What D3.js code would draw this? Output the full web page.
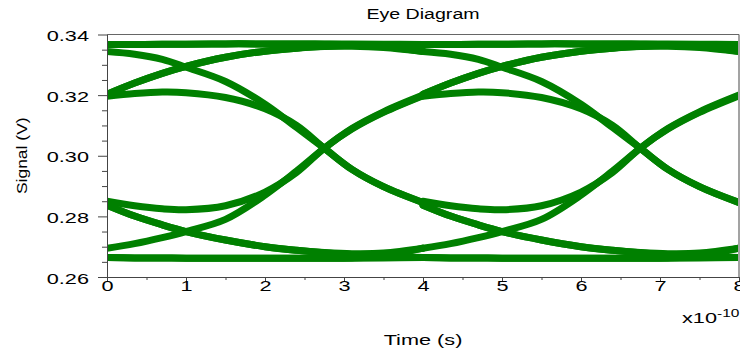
<!DOCTYPE html>
<html>
<head>
<meta charset="utf-8">
<script src="https://cdn.jsdelivr.net/npm/d3@7"></script>
<style>
body { margin: 0; background: #fff; }
svg { display: block; }
text { font-family: "Liberation Sans", Arial, sans-serif; fill: #000; }
</style>
</head>
<body>
<div id="chart"></div>
<script>
// time points inside one unit interval (x1e-10 s)
var timeGrid = [0, 0.35, 0.7, 1, 1.5, 2, 2.4, 2.75, 3.1, 3.5, 4];
// the eye repeats every unit interval
var uiStarts = [0, 4];

// signal (V) of each trace family at timeGrid
var steadyHigh   = [0.3367, 0.3367, 0.3368, 0.3368, 0.3369, 0.3369, 0.3369, 0.3369, 0.3369, 0.3368, 0.3367];
var highToFall   = [0.3367, 0.3367, 0.3368, 0.3368, 0.3369, 0.3369, 0.3369, 0.3368, 0.3366, 0.3360, 0.3344];
var riseHold     = [0.3203, 0.3240, 0.3272, 0.3295, 0.3325, 0.3345, 0.3355, 0.3361, 0.3365, 0.3367, 0.3367];
var riseToFall   = [0.3203, 0.3240, 0.3272, 0.3295, 0.3325, 0.3345, 0.3355, 0.3360, 0.3361, 0.3357, 0.3344];
var steadyLow    = [0.2664, 0.2663, 0.2663, 0.2662, 0.2662, 0.2662, 0.2662, 0.2662, 0.2662, 0.2663, 0.2664];
var lowToRise    = [0.2664, 0.2663, 0.2663, 0.2662, 0.2662, 0.2662, 0.2662, 0.2662, 0.2663, 0.2670, 0.2695];
var fallHold     = [0.2837, 0.2801, 0.2772, 0.2750, 0.2722, 0.2700, 0.2688, 0.2680, 0.2674, 0.2669, 0.2664];
var fallToRise   = [0.2837, 0.2801, 0.2772, 0.2750, 0.2722, 0.2700, 0.2688, 0.2681, 0.2677, 0.2679, 0.2695];
var riseEdge     = [0.2695, 0.2710, 0.2730, 0.2750, 0.2790, 0.2870, 0.2950, 0.3025, 0.3090, 0.3145, 0.3200];
var fallEdge     = [0.3344, 0.3335, 0.3318, 0.3292, 0.3245, 0.3170, 0.3093, 0.3025, 0.2955, 0.2898, 0.2845];
var humpEdge     = [0.3196, 0.3205, 0.3210, 0.3208, 0.3192, 0.3155, 0.3100, 0.3025, 0.2955, 0.2898, 0.2846];
var dipEdge      = [0.2850, 0.2835, 0.2825, 0.2822, 0.2835, 0.2880, 0.2945, 0.3025, 0.3088, 0.3143, 0.3198];

var traces = [steadyHigh, highToFall, riseHold, riseToFall, steadyLow, lowToRise,
              fallHold, fallToRise, riseEdge, fallEdge, humpEdge, dipEdge];

var xTicks = [0, 1, 2, 3, 4, 5, 6, 7, 8];
var xMinorTicks = [0.5, 1.5, 2.5, 3.5, 4.5, 5.5, 6.5, 7.5];
var yTicks = [0.26, 0.28, 0.30, 0.32, 0.34];
var yMinorTicks = [0.265, 0.27, 0.275, 0.285, 0.29, 0.295, 0.305, 0.31, 0.315, 0.325, 0.33, 0.335];

var width = 740, height = 352;
var plotLeft = 107, plotRight = 739, plotTop = 34.5, plotBottom = 277;
var stretch = 1.55; // text in the reference is drawn wide

var x = d3.scaleLinear().domain([0, 8]).range([plotLeft, plotRight]);
var y = d3.scaleLinear().domain([0.26, 0.34]).range([plotBottom, plotTop]);

var svg = d3.select('#chart').append('svg')
    .attr('width', width)
    .attr('height', height);

svg.append('defs').append('clipPath').attr('id', 'plotClip')
  .append('rect')
    .attr('x', x(0) + 0.5)
    .attr('y', y(0.34) + 0.5)
    .attr('width', x(8) - x(0) - 1.5)
    .attr('height', y(0.26) - y(0.34) - 1);

var line = d3.line()
    .x(function(d){ return x(d[0]); })
    .y(function(d){ return y(d[1]); })
    .curve(d3.curveCatmullRom.alpha(0.5));

var traceData = [];
uiStarts.forEach(function(u){
    traces.forEach(function(tr){
        traceData.push(timeGrid.map(function(t, i){ return [t + u, tr[i]]; }));
    });
});

svg.append('g')
    .attr('clip-path', 'url(#plotClip)')
  .selectAll('path')
  .data(traceData)
  .enter().append('path')
    .attr('d', line)
    .attr('fill', 'none')
    .attr('stroke', '#008000')
    .attr('stroke-width', 7)
    .attr('stroke-linecap', 'round')
    .attr('stroke-linejoin', 'round');

// top and right frame
svg.append('line')
    .attr('x1', x(0)).attr('x2', x(8))
    .attr('y1', y(0.34)).attr('y2', y(0.34))
    .attr('stroke', '#666').attr('stroke-width', 1.2);
svg.append('line')
    .attr('x1', x(8)).attr('x2', x(8))
    .attr('y1', y(0.34)).attr('y2', y(0.26))
    .attr('stroke', '#666').attr('stroke-width', 1.2);

// y axis
svg.append('g')
    .attr('transform', 'translate(' + x(0) + ',0)')
    .call(d3.axisLeft(y).tickValues(yMinorTicks).tickSize(5).tickSizeOuter(0).tickFormat(''))
    .call(function(g){ g.select('.domain').remove(); });

var yAxis = svg.append('g')
    .attr('transform', 'translate(' + x(0) + ',0)')
    .call(d3.axisLeft(y).tickValues(yTicks).tickSize(9).tickSizeOuter(0).tickFormat(d3.format('.2f')));
yAxis.selectAll('text')
    .attr('x', -18 / stretch)
    .attr('dy', 6)
    .attr('transform', 'scale(' + stretch + ',1)')
    .style('font-size', '14px');

// x axis
svg.append('g')
    .attr('transform', 'translate(0,' + y(0.26) + ')')
    .call(d3.axisBottom(x).tickValues(xMinorTicks).tickSize(3).tickSizeOuter(0).tickFormat(''))
    .call(function(g){ g.select('.domain').remove(); });

var xAxis = svg.append('g')
    .attr('transform', 'translate(0,' + y(0.26) + ')')
    .call(d3.axisBottom(x).tickValues(xTicks).tickSize(5).tickSizeOuter(0).tickFormat(d3.format('d')));
xAxis.selectAll('text')
    .attr('y', 4)
    .attr('dy', 10)
    .attr('transform', 'scale(' + stretch + ',1)')
    .style('font-size', '14px');

svg.selectAll('.domain, .tick line').attr('stroke', '#444');

// titles
svg.append('text')
    .attr('transform', 'translate(' + ((plotLeft + plotRight) / 2) + ',19) scale(1.4,1)')
    .attr('text-anchor', 'middle')
    .style('font-size', '14px')
    .text('Eye Diagram');

svg.append('text')
    .attr('transform', 'translate(' + ((plotLeft + plotRight) / 2) + ',345) scale(' + stretch + ',1)')
    .attr('text-anchor', 'middle')
    .style('font-size', '14px')
    .text('Time (s)');

svg.append('text')
    .attr('transform', 'translate(27,' + ((plotTop + plotBottom) / 2) + ') rotate(-90) scale(1.25,1)')
    .attr('text-anchor', 'middle')
    .style('font-size', '14px')
    .text('Signal (V)');

var expo = svg.append('text')
    .attr('transform', 'translate(682,323) scale(' + stretch + ',1)')
    .style('font-size', '14px');
expo.append('tspan').text('x10');
expo.append('tspan')
    .attr('dy', -6)
    .style('font-size', '10px')
    .text('-10');
</script>
</body>
</html>
